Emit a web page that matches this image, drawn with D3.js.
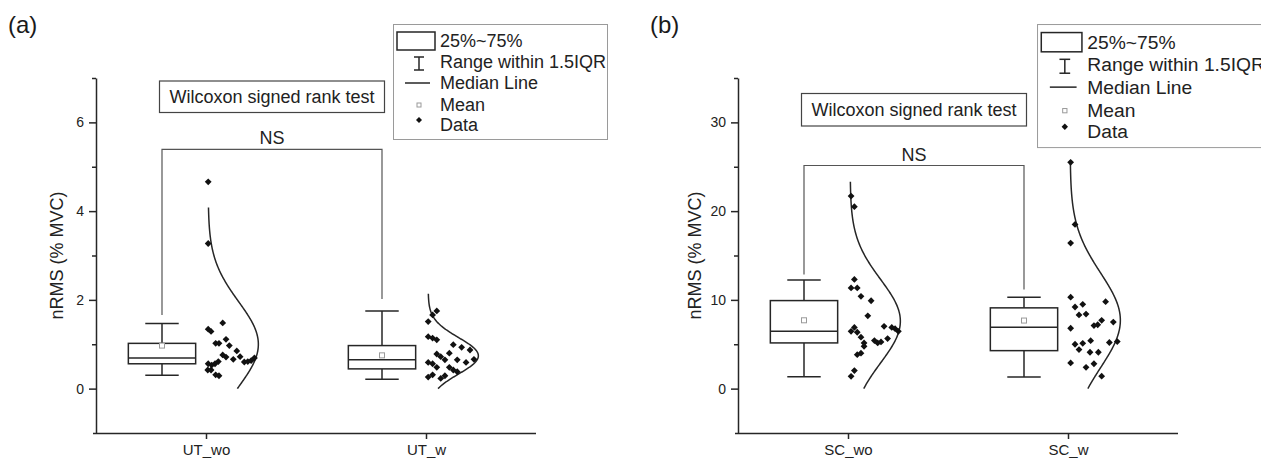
<!DOCTYPE html>
<html>
<head>
<meta charset="utf-8">
<script src="https://cdn.jsdelivr.net/npm/d3@7"></script>
<style>
  body { margin: 0; background: #fff; }
  svg { display: block; font-family: "Liberation Sans", Arial, sans-serif; }
</style>
</head>
<body>
<svg id="chart" width="1261" height="459"></svg>
<script>
// ---- data ----
const categoriesA = ["UT_wo", "UT_w"];
const categoriesB = ["SC_wo", "SC_w"];
const majorTicksA = [0, 2, 4, 6];
const minorTicksA = [1, 3, 5, 7];
const majorTicksB = [0, 10, 20, 30];
const minorTicksB = [5, 15, 25, 35];
const yDomainA = [-1, 7];
const yDomainB = [-5, 35];

const utWoValues = [4.66, 3.27, 1.48, 1.34, 1.29, 1.11, 1.02, 1.02, 0.97, 0.85, 0.76, 0.71, 0.66, 0.72, 0.61, 0.60, 0.61, 0.63, 0.69, 0.56, 0.53, 0.56, 0.42, 0.42, 0.31, 0.29];
const utWoJitter = [0.010, 0.010, 0.076, 0.010, 0.023, 0.091, 0.044, 0.059, 0.106, 0.140, 0.076, 0.091, 0.124, 0.155, 0.056, 0.174, 0.190, 0.205, 0.220, 0.010, 0.026, 0.041, 0.008, 0.023, 0.044, 0.059];

const utWValues = [1.75, 1.66, 1.51, 1.17, 1.14, 1.10, 0.99, 0.93, 0.87, 0.78, 0.72, 0.65, 0.80, 0.65, 0.59, 0.66, 0.59, 0.56, 0.48, 0.48, 0.42, 0.38, 0.26, 0.31, 0.23, 0.29];
const utWJitter = [0.049, 0.030, 0.010, 0.010, 0.030, 0.049, 0.124, 0.162, 0.200, 0.049, 0.067, 0.086, 0.106, 0.142, 0.182, 0.218, 0.010, 0.030, 0.049, 0.106, 0.124, 0.142, 0.010, 0.030, 0.067, 0.086];

const scWoValues = [21.7, 20.5, 12.3, 11.35, 11.35, 10.4, 9.9, 8.2, 6.9, 6.46, 6.35, 5.8, 5.15, 4.77, 3.83, 4.0, 2.03, 1.39, 7.02, 6.9, 6.76, 6.46, 5.41, 5.15, 5.26, 5.64];
const scWoJitter = [0.014, 0.029, 0.029, 0.014, 0.042, 0.059, 0.105, 0.090, 0.029, 0.014, 0.042, 0.059, 0.073, 0.073, 0.042, 0.059, 0.029, 0.014, 0.164, 0.199, 0.214, 0.229, 0.120, 0.135, 0.150, 0.180];

const scWValues = [25.5, 18.5, 16.4, 10.3, 9.2, 9.5, 9.8, 8.3, 8.4, 7.5, 7.7, 7.2, 7.1, 6.8, 5.2, 5.3, 5.0, 4.4, 5.1, 5.4, 4.1, 4.1, 2.9, 2.4, 2.8, 1.4];
const scWJitter = [0.012, 0.032, 0.012, 0.012, 0.032, 0.067, 0.171, 0.050, 0.082, 0.206, 0.153, 0.135, 0.118, 0.012, 0.188, 0.224, 0.032, 0.050, 0.067, 0.103, 0.100, 0.138, 0.012, 0.082, 0.118, 0.153];

// box statistics: [lower whisker, Q1, median, Q3, upper whisker, mean]
const utWoBox = [0.30, 0.56, 0.69, 1.02, 1.47, 0.97];
const utWBox  = [0.21, 0.445, 0.65, 0.97, 1.75, 0.75];
const scWoBox = [1.35, 5.15, 6.46, 9.92, 12.25, 7.70];
const scWBox  = [1.32, 4.28, 6.91, 9.10, 10.30, 7.67];

// fitted normal curves: [mean, sd, from, to]
const utWoCurve = [1.00, 0.96, 0, 4.08];
const utWCurve  = [0.74, 0.41, 0, 2.14];
const scWoCurve = [7.60, 4.70, 0, 23.3];
const scWCurve  = [7.70, 5.33, 0, 25.5];

// significance brackets: [bar level, left foot, right foot]
const bracketA = [5.39, 1.66, 2.02];
const bracketB = [25.14, 12.85, 11.16];

const legendLabels = ["25%~75%", "Range within 1.5IQR", "Median Line", "Mean", "Data"];

// ---- drawing ----
const svg = d3.select("#chart");
const INK = "#262626";

function diamondPath(r) {
  return `M0,${-r}L${r},0L0,${r}L${-r},0Z`;
}

function drawPanel(p) {
  const g = svg.append("g").attr("transform", `translate(${p.dx},0)`);
  const x = d3.scaleLinear().domain([0.5, 2.5]).range([96, 536]);
  const y = d3.scaleLinear().domain(p.yDomain).range([433, 78]);

  // panel letter
  g.append("text").attr("x", 8).attr("y", 33)
    .attr("font-size", 24).attr("fill", "#1a1a1a").text(p.letter);

  // y axis with major and minor ticks
  const yAxis = g.append("g").attr("transform", "translate(96,0)")
    .call(d3.axisLeft(y).tickValues(p.majors).tickSize(7).tickPadding(5).tickSizeOuter(0));
  g.append("g").attr("transform", "translate(96,0)")
    .call(d3.axisLeft(y).tickValues(p.minors).tickSize(4).tickFormat("").tickSizeOuter(0))
    .select(".domain").remove();
  // x axis
  const xAxis = g.append("g").attr("transform", "translate(0,433)")
    .call(d3.axisBottom(x).tickValues([1, 2]).tickFormat(i => p.cats[i - 1])
      .tickSize(6).tickPadding(5).tickSizeOuter(0));
  xAxis.select(".domain").attr("d", "M93,0.5H536");

  g.selectAll(".domain, .tick line").attr("stroke", INK).attr("stroke-width", 1.5);
  yAxis.selectAll(".tick text").attr("font-size", 14).attr("fill", "#222")
    .attr("font-family", "Liberation Sans, Arial, sans-serif");
  xAxis.selectAll(".tick text").attr("font-size", 15).attr("fill", "#222")
    .attr("font-family", "Liberation Sans, Arial, sans-serif");

  // y axis title
  g.append("text")
    .attr("transform", `translate(${p.titleX},255.5) rotate(-90)`)
    .attr("text-anchor", "middle").attr("dy", "0.35em")
    .attr("font-size", 18).attr("fill", "#222").text("nRMS (% MVC)");

  // boxes, curves and points for each group
  p.groups.forEach((grp, i) => {
    const c = i + 1;
    const bc = c - 0.2;
    const [wl, q1, med, q3, wh, mean] = grp.box;
    const bg = g.append("g").attr("stroke", INK).attr("stroke-width", 1.5).attr("fill", "none");
    bg.append("line").attr("x1", x(bc)).attr("x2", x(bc)).attr("y1", y(q3)).attr("y2", y(wh));
    bg.append("line").attr("x1", x(bc)).attr("x2", x(bc)).attr("y1", y(q1)).attr("y2", y(wl));
    bg.append("line").attr("x1", x(bc - 0.076)).attr("x2", x(bc + 0.076)).attr("y1", y(wh)).attr("y2", y(wh));
    bg.append("line").attr("x1", x(bc - 0.076)).attr("x2", x(bc + 0.076)).attr("y1", y(wl)).attr("y2", y(wl));
    bg.append("rect").attr("x", x(bc - 0.153)).attr("y", y(q3))
      .attr("width", x(bc + 0.153) - x(bc - 0.153)).attr("height", y(q1) - y(q3))
      .attr("fill", "#fff");
    bg.append("line").attr("x1", x(bc - 0.153)).attr("x2", x(bc + 0.153)).attr("y1", y(med)).attr("y2", y(med));
    g.append("rect").attr("x", x(bc) - 2.5).attr("y", y(mean) - 2.5).attr("width", 5).attr("height", 5)
      .attr("fill", "#fff").attr("stroke", "#9a9a9a").attr("stroke-width", 1);

    // normal distribution curve
    const [mu, sd, lo, hi] = grp.curve;
    const pts = d3.range(0, 201).map(k => lo + (hi - lo) * k / 200);
    const line = d3.line()
      .x(v => x(c + 0.01 + 0.228 * Math.exp(-((v - mu) ** 2) / (2 * sd * sd))))
      .y(v => y(v))
      .curve(d3.curveBasis);
    g.append("path").datum(pts).attr("d", line)
      .attr("fill", "none").attr("stroke", INK).attr("stroke-width", 1.5);

    // data points
    g.append("g").selectAll("path").data(grp.values).join("path")
      .attr("transform", (v, k) => `translate(${x(c + grp.jitter[k])},${y(v)})`)
      .attr("d", diamondPath(3.4)).attr("fill", "#111");
  });

  // significance bracket
  const [bTop, bL, bR] = p.bracket;
  const xl = x(0.8), xr = x(1.8);
  g.append("path")
    .attr("d", `M${xl},${y(bL)}V${y(bTop)}H${xr}V${y(bR)}`)
    .attr("fill", "none").attr("stroke", "#555").attr("stroke-width", 1.2);
  g.append("text").attr("x", (xl + xr) / 2).attr("y", y(bTop) - 5)
    .attr("text-anchor", "middle").attr("font-size", 18).attr("fill", "#222").text("NS");

  // test name box
  const tb = p.testBox;
  g.append("rect").attr("x", 159.5).attr("y", tb.y).attr("width", 225).attr("height", tb.h)
    .attr("fill", "#fff").attr("stroke", "#444").attr("stroke-width", 1.2);
  g.append("text").attr("x", 272).attr("y", tb.y + tb.base).attr("text-anchor", "middle")
    .attr("font-size", 18).attr("fill", "#222").text("Wilcoxon signed rank test");

  // legend
  const s = p.legendScale;
  const lg = g.append("g").attr("transform", `translate(${p.legendX},24) scale(${s})`);
  lg.append("rect").attr("x", 0.5).attr("y", 0.5).attr("width", 214).attr("height", 115)
    .attr("fill", "#fff").attr("stroke", "#9a9a9a").attr("stroke-width", 1 / s);
  const sym = lg.append("g").attr("stroke", INK).attr("stroke-width", 1.5 / s).attr("fill", "none");
  sym.append("rect").attr("x", 4).attr("y", 8).attr("width", 38).attr("height", 18);
  sym.append("line").attr("x1", 26).attr("x2", 26).attr("y1", 33).attr("y2", 46);
  sym.append("line").attr("x1", 21).attr("x2", 31).attr("y1", 33).attr("y2", 33);
  sym.append("line").attr("x1", 21).attr("x2", 31).attr("y1", 46).attr("y2", 46);
  sym.append("line").attr("x1", 12).attr("x2", 37).attr("y1", 59).attr("y2", 59);
  lg.append("rect").attr("x", 24).attr("y", 79).attr("width", 4).attr("height", 4)
    .attr("fill", "#fff").attr("stroke", "#9a9a9a").attr("stroke-width", 1 / s);
  lg.append("path").attr("transform", "translate(26,96)").attr("d", diamondPath(3)).attr("fill", "#111");
  const baselines = [23, 44, 65, 87, 107];
  lg.selectAll("text.lab").data(legendLabels).join("text").attr("class", "lab")
    .attr("x", 47).attr("y", (d, k) => baselines[k])
    .attr("font-size", 18).attr("fill", "#222").text(d => d);
}

drawPanel({
  dx: 0, letter: "(a)", cats: categoriesA, yDomain: yDomainA,
  majors: majorTicksA, minors: minorTicksA, titleX: 57,
  groups: [
    { values: utWoValues, jitter: utWoJitter, box: utWoBox, curve: utWoCurve },
    { values: utWValues, jitter: utWJitter, box: utWBox, curve: utWCurve }
  ],
  bracket: bracketA, testBox: { y: 81, h: 31.5, base: 22 },
  legendX: 393, legendScale: 1
});

drawPanel({
  dx: 642, letter: "(b)", cats: categoriesB, yDomain: yDomainB,
  majors: majorTicksB, minors: minorTicksB, titleX: 53,
  groups: [
    { values: scWoValues, jitter: scWoJitter, box: scWoBox, curve: scWoCurve },
    { values: scWValues, jitter: scWJitter, box: scWBox, curve: scWCurve }
  ],
  bracket: bracketB, testBox: { y: 93.5, h: 32.5, base: 22 },
  legendX: 395, legendScale: 1.07
});
</script>
</body>
</html>
